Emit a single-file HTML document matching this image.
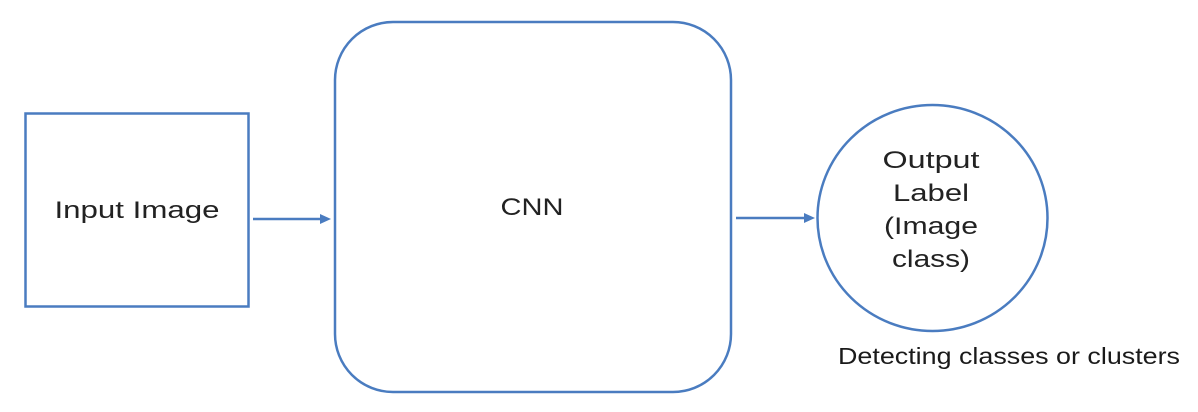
<!DOCTYPE html>
<html><head><meta charset="utf-8"><style>
html,body{margin:0;padding:0;background:#fff;}
svg{display:block;}
</style></head><body>
<svg width="1198" height="412" viewBox="0 0 1198 412" xmlns="http://www.w3.org/2000/svg">
<g fill="none" stroke="#4a7cc0" stroke-width="2.5">
<rect x="25.5" y="113.5" width="223" height="193"/>
<rect x="335" y="22" width="396" height="370" rx="58" ry="58"/>
<ellipse cx="932.5" cy="218" rx="115" ry="113"/>
<line x1="253" y1="219" x2="322" y2="219"/>
<line x1="736" y1="218" x2="806" y2="218"/>
</g>
<polygon points="331,219 320,214 320,224" fill="#4a7cc0"/>
<polygon points="815,218 804,213 804,223" fill="#4a7cc0"/>
<g font-family="Liberation Sans, sans-serif" font-size="24" fill="#222" text-anchor="middle" lengthAdjust="spacingAndGlyphs">
<text x="137" y="218" textLength="165" lengthAdjust="spacingAndGlyphs">Input Image</text>
<text x="532" y="215" textLength="63" lengthAdjust="spacingAndGlyphs">CNN</text>
<text x="931" y="168" textLength="97" lengthAdjust="spacingAndGlyphs">Output</text>
<text x="931" y="201" textLength="76" lengthAdjust="spacingAndGlyphs">Label</text>
<text x="931" y="234" textLength="94" lengthAdjust="spacingAndGlyphs">(Image</text>
<text x="931" y="267" textLength="78" lengthAdjust="spacingAndGlyphs">class)</text>
</g>
<text x="1009" y="364" font-family="Liberation Sans, sans-serif" font-size="23" fill="#1a1a1a" text-anchor="middle" textLength="342" lengthAdjust="spacingAndGlyphs">Detecting classes or clusters</text>
</svg>
</body></html>
